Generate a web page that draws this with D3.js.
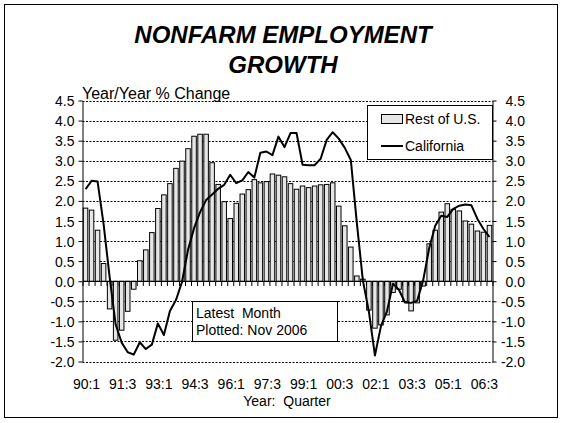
<!DOCTYPE html>
<html>
<head>
<meta charset="utf-8">
<script src="https://cdn.jsdelivr.net/npm/d3@7"></script>
<style>
  body { margin: 0; background: #fff; }
  svg text { font-family: Arial, "Liberation Sans", sans-serif; fill: #000; }
</style>
</head>
<body>
<svg id="chart" width="563" height="423"></svg>
<script>
// quarters 90:1 .. 06:4
const quarters = [
  "90:1","90:2","90:3","90:4","91:1","91:2","91:3","91:4",
  "92:1","92:2","92:3","92:4","93:1","93:2","93:3","93:4",
  "94:1","94:2","94:3","94:4","95:1","95:2","95:3","95:4",
  "96:1","96:2","96:3","96:4","97:1","97:2","97:3","97:4",
  "98:1","98:2","98:3","98:4","99:1","99:2","99:3","99:4",
  "00:1","00:2","00:3","00:4","01:1","01:2","01:3","01:4",
  "02:1","02:2","02:3","02:4","03:1","03:2","03:3","03:4",
  "04:1","04:2","04:3","04:4","05:1","05:2","05:3","05:4",
  "06:1","06:2","06:3","06:4"
];

const restOfUS = [
  1.82, 1.77, 1.27, 0.44, -0.69, -1.47, -1.22, -0.75,
  -0.20, 0.51, 0.78, 1.21, 1.81, 2.15, 2.43, 2.81,
  2.99, 3.30, 3.61, 3.66, 3.66, 2.95, 2.41, 1.98,
  1.56, 1.94, 2.17, 2.28, 2.53, 2.45, 2.48, 2.67,
  2.64, 2.60, 2.43, 2.29, 2.37, 2.33, 2.37, 2.40,
  2.41, 2.45, 1.87, 1.38, 0.85, 0.13, 0.05, -0.72,
  -1.17, -1.09, -0.84, -0.28, -0.20, -0.51, -0.74, -0.54,
  -0.12, 0.93, 1.27, 1.72, 1.93, 1.79, 1.75, 1.50,
  1.42, 1.25, 1.22, 1.39
];

const california = [
  2.29, 2.50, 2.48, 1.42, 0.10, -1.08, -1.53, -1.77,
  -1.83, -1.52, -1.69, -1.58, -1.05, -1.34, -0.74, -0.47,
  -0.02, 0.78, 1.32, 1.72, 2.02, 2.16, 2.30, 2.40,
  2.65, 2.44, 2.51, 2.72, 2.58, 3.20, 3.23, 3.14,
  3.60, 3.34, 3.69, 3.69, 2.90, 2.89, 2.89, 3.05,
  3.52, 3.71, 3.55, 3.32, 3.02, 1.45, 0.02, -0.76,
  -1.85, -1.12, -0.75, -0.06, -0.22, -0.53, -0.54, -0.49,
  0.02, 0.82, 1.38, 1.63, 1.60, 1.80, 1.88, 1.91,
  1.89, 1.55, 1.30, 1.10
];

const xTickLabels = ["90:1","91:3","93:1","94:3","96:1","97:3","99:1","00:3","02:1","03:3","05:1","06:3"];
const yTicks = [-2.0, -1.5, -1.0, -0.5, 0.0, 0.5, 1.0, 1.5, 2.0, 2.5, 3.0, 3.5, 4.0, 4.5];

const svg = d3.select("#chart");
const plotLeft = 82.5, plotRight = 492.5, plotTop = 100.5, plotBottom = 361.5;
const fontSize = "14px";

// outer frame
svg.append("rect")
  .attr("x", 4.5).attr("y", 4.5)
  .attr("width", 553).attr("height", 413)
  .attr("fill", "none").attr("stroke", "#000");

const x = d3.scaleBand().domain(quarters).range([plotLeft, plotRight])
  .paddingInner(0.25).paddingOuter(0.125);
const y = d3.scaleLinear().domain([-2, 4.5]).range([plotBottom, plotTop]);
const bw = x.bandwidth();

// dotted gridlines
svg.append("g").selectAll("line")
  .data(yTicks.filter(v => v !== 0))
  .enter().append("line")
  .attr("x1", plotLeft).attr("x2", plotRight)
  .attr("y1", d => Math.round(y(d)) + 0.5)
  .attr("y2", d => Math.round(y(d)) + 0.5)
  .attr("stroke", "#000")
  .attr("stroke-dasharray", "2,1.5");

// bars - rest of U.S.
svg.append("g").selectAll("rect")
  .data(restOfUS)
  .enter().append("rect")
  .attr("x", (d, i) => x(quarters[i]))
  .attr("width", bw)
  .attr("y", d => y(Math.max(0, d)))
  .attr("height", d => Math.abs(y(d) - y(0)))
  .attr("fill", "#e6e6e6")
  .attr("stroke", "#000")
  .attr("stroke-width", 1);

// category axis at zero
const xb = d3.scaleLinear().domain([0, quarters.length]).range([plotLeft, plotRight]);
svg.append("g")
  .attr("transform", `translate(0,${Math.round(y(0))})`)
  .call(d3.axisBottom(xb)
    .tickValues(d3.range(0, quarters.length + 1))
    .tickSize(5).tickSizeOuter(0).tickFormat(""))
  .call(g => g.selectAll("line,path").attr("stroke", "#000"));

// california line
const line = d3.line()
  .x((d, i) => x(quarters[i]) + bw / 2)
  .y(d => y(d));
svg.append("path")
  .datum(california)
  .attr("d", line)
  .attr("fill", "none")
  .attr("stroke", "#000")
  .attr("stroke-width", 2)
  .attr("stroke-linejoin", "round");

// value axes
const fmt = d => d.toFixed(1);
svg.append("g")
  .attr("transform", `translate(${plotLeft},0)`)
  .call(d3.axisLeft(y).tickValues(yTicks).tickSize(4).tickSizeOuter(0)
    .tickPadding(4).tickFormat(fmt))
  .call(g => g.selectAll("line,path").attr("stroke", "#000"))
  .call(g => g.selectAll("text").attr("font-size", fontSize).attr("dy", "0.36em"));

svg.append("g")
  .attr("transform", `translate(${plotRight},0)`)
  .call(d3.axisRight(y).tickValues(yTicks).tickSize(4).tickSizeOuter(0)
    .tickFormat(fmt))
  .call(g => g.selectAll("line,path").attr("stroke", "#000"))
  .call(g => g.selectAll("text").attr("font-size", fontSize)
    .attr("text-anchor", "end").attr("x", 32.5).attr("dy", "0.36em"));

svg.selectAll("g").attr("font-family", null).attr("font-size", null);

// x tick labels
svg.append("g").selectAll("text")
  .data(xTickLabels)
  .enter().append("text")
  .attr("x", d => x(d) + bw / 2 + 1)
  .attr("y", 389)
  .attr("text-anchor", "middle")
  .attr("font-size", fontSize)
  .text(d => d);

// titles
svg.append("text").attr("x", 283).attr("y", 43)
  .attr("text-anchor", "middle")
  .attr("font-size", "24px").attr("font-weight", "bold").attr("font-style", "italic")
  .text("NONFARM EMPLOYMENT");
svg.append("text").attr("x", 283).attr("y", 73)
  .attr("text-anchor", "middle")
  .attr("font-size", "24px").attr("font-weight", "bold").attr("font-style", "italic")
  .text("GROWTH");

svg.append("text").attr("x", 82).attr("y", 99)
  .attr("font-size", "16px")
  .text("Year/Year % Change");

svg.append("text").attr("x", 287).attr("y", 406)
  .attr("text-anchor", "middle")
  .attr("font-size", fontSize)
  .style("white-space", "pre")
  .text("Year:  Quarter");

// legend
const lg = svg.append("g");
lg.append("rect").attr("x", 367.5).attr("y", 105.5).attr("width", 125).attr("height", 54)
  .attr("fill", "#fff").attr("stroke", "#000");
lg.append("rect").attr("x", 381.5).attr("y", 114.5).attr("width", 21).attr("height", 9)
  .attr("fill", "#e6e6e6").attr("stroke", "#000");
lg.append("text").attr("x", 405).attr("y", 124).attr("font-size", fontSize).text("Rest of U.S.");
lg.append("line").attr("x1", 381).attr("x2", 403).attr("y1", 146).attr("y2", 146)
  .attr("stroke", "#000").attr("stroke-width", 2);
lg.append("text").attr("x", 405).attr("y", 151).attr("font-size", fontSize).text("California");

// note box
const nb = svg.append("g");
nb.append("rect").attr("x", 192.5).attr("y", 301.5).attr("width", 145).attr("height", 40)
  .attr("fill", "#fff").attr("stroke", "#000");
nb.append("text").attr("x", 196).attr("y", 318).attr("font-size", fontSize)
  .style("white-space", "pre").text("Latest  Month");
nb.append("text").attr("x", 196).attr("y", 335).attr("font-size", fontSize)
  .text("Plotted: Nov 2006");
</script>
</body>
</html>
